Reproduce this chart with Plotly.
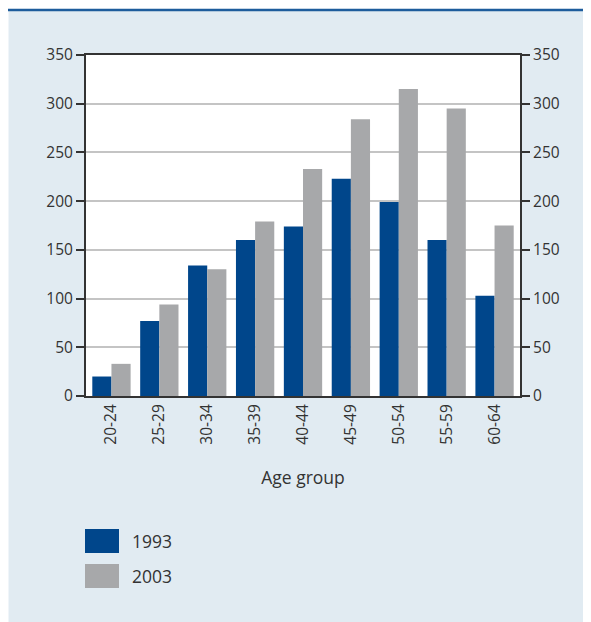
import plotly.graph_objects as go

age_groups = ["20-24", "25-29", "30-34", "35-39", "40-44", "45-49", "50-54", "55-59", "60-64"]
values_1993 = [20, 77, 134, 160, 174, 223, 199, 160, 103]
values_2003 = [33, 94, 130, 179, 233, 284, 315, 295, 175]
series_names = ["1993", "2003"]
y_ticks = [0, 50, 100, 150, 200, 250, 300, 350]

BLUE = "#00468b"
GRAY = "#a7a8aa"
BG = "#e1ebf2"
TXT = "#333333"
AX = "#333333"
FONT = "Open Sans, Noto Sans, sans-serif"

W, H = 583, 614
ML, MR, MT, MB = 78, 71, 47, 226
PW, PH = W - ML - MR, H - MT - MB

def px_x(fx):
    return (fx - ML) / PW

def px_y(fy):
    return 1 - (fy - MT) / PH

fig = go.Figure()
fig.add_trace(go.Bar(x=age_groups, y=values_1993, name=series_names[0],
                     marker=dict(color=BLUE, line=dict(width=0)), showlegend=False))
fig.add_trace(go.Bar(x=age_groups, y=values_2003, name=series_names[1],
                     marker=dict(color=GRAY, line=dict(width=0)), showlegend=False))
# invisible trace to activate the right-hand axis
fig.add_trace(go.Scatter(x=age_groups, y=values_2003, yaxis="y2", mode="markers",
                         marker=dict(opacity=0), hoverinfo="skip", showlegend=False))

axis_common = dict(range=[0, 350], tickvals=y_ticks, showline=True, linecolor=AX,
                   linewidth=2, ticks="outside", ticklen=8, tickcolor=AX, tickwidth=1.5,
                   tickfont=dict(family=FONT, size=15.5, color=TXT), zeroline=False)

fig.update_layout(
    width=W, height=H, autosize=False,
    margin=dict(l=ML, r=MR, t=MT, b=MB),
    paper_bgcolor=BG, plot_bgcolor="white",
    barmode="group", bargap=0.2, bargroupgap=0,
    font=dict(family=FONT, color=TXT),
    xaxis=dict(showline=True, mirror=True, linecolor=AX, linewidth=2, ticks="",
               tickangle=-90, tickfont=dict(family=FONT, size=15.5, color=TXT),
               title=dict(text="Age group", font=dict(family=FONT, size=17.5, color=TXT),
                          standoff=28)),
    yaxis=dict(**axis_common, showgrid=True, gridcolor="#c4c4c4", gridwidth=1.5, side="left"),
    yaxis2=dict(**axis_common, overlaying="y", side="right", showgrid=False),
)

# top rule of the panel
fig.add_shape(type="rect", xref="paper", yref="paper", x0=px_x(-5), x1=px_x(W + 5),
              y0=px_y(1), y1=px_y(-5), fillcolor="white", line=dict(width=0), layer="below")
fig.add_shape(type="rect", xref="paper", yref="paper", x0=px_x(-5), x1=px_x(0.5),
              y0=px_y(H + 5), y1=px_y(-5), fillcolor="white", line=dict(width=0), layer="below")
fig.add_shape(type="line", xref="paper", yref="paper", x0=px_x(0), x1=px_x(W + 5),
              y0=px_y(2), y1=px_y(2), line=dict(color="#1d5c9c", width=2.5))

# legend
legend_colors = [BLUE, GRAY]
for i, (name, col) in enumerate(zip(series_names, legend_colors)):
    top = 521 + i * 35
    fig.add_shape(type="rect", xref="paper", yref="paper", x0=px_x(77), x1=px_x(111),
                  y0=px_y(top + 24), y1=px_y(top), fillcolor=col, line=dict(width=0))
    fig.add_annotation(xref="paper", yref="paper", x=px_x(122), y=px_y(top + 12),
                       text=name, showarrow=False, xanchor="left", yanchor="middle",
                       font=dict(family=FONT, size=17.5, color=TXT))

fig.write_html("out.html")
